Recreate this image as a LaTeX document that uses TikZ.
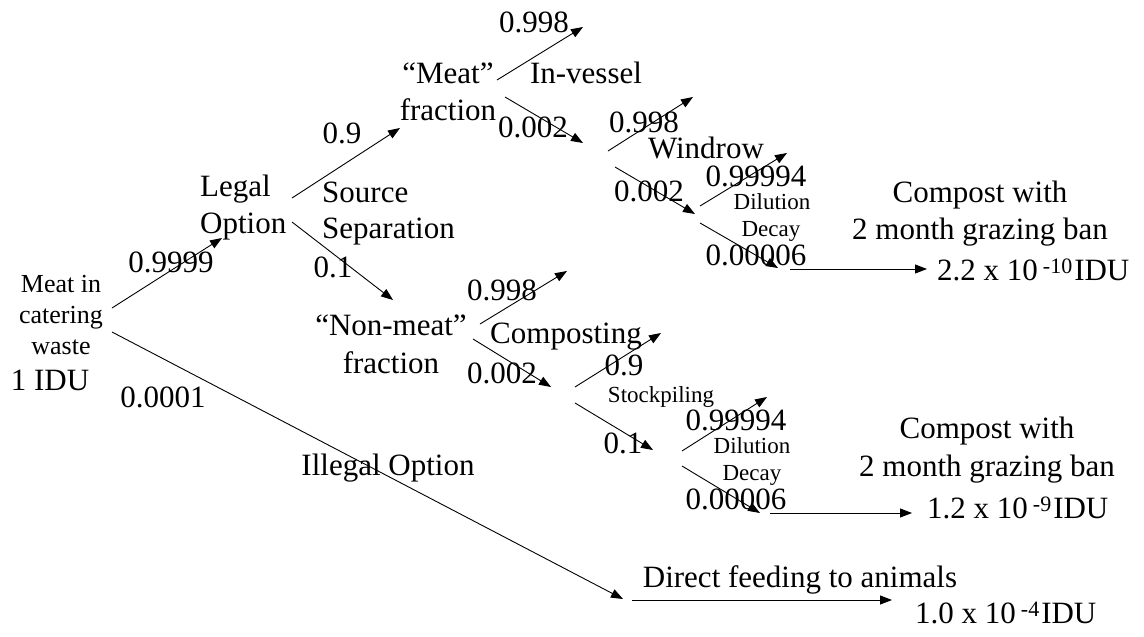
\documentclass[tikz,border=0pt]{standalone}
\usepackage{fontspec}
\setmainfont{Liberation Serif}
\usetikzlibrary{arrows.meta}
\tikzset{
  lbl/.style={anchor=base, inner sep=0pt, font=\fontsize{31}{37}\selectfont},
  sml/.style={anchor=base, inner sep=0pt, font=\fontsize{23}{27}\selectfont},
  mid/.style={anchor=base, inner sep=0pt, font=\fontsize{26}{30}\selectfont},
  res/.style={anchor=base west, inner sep=0pt, font=\fontsize{31}{37}\selectfont},
  arr/.style={draw, line width=0.9pt, -{Triangle[length=12pt,width=9pt]}},
}
\newcommand{\supx}[1]{\hspace{5pt}\raisebox{7pt}{\fontsize{22}{22}\selectfont #1}\hspace{2pt}}
\begin{document}
\begin{tikzpicture}[x=1pt,y=-1pt]
\useasboundingbox (0,0) rectangle (1144,637);
% ---- labels
\node[mid] (src1) at (61,292) {Meat in};
\node[mid] (src2) at (61,323) {catering};
\node[mid] (src3) at (61,354) {waste};
\node[lbl] (src4) at (50,390) {1 IDU};
\node[lbl,anchor=base west] (legal1) at (200,196) {Legal};
\node[lbl,anchor=base west] (legal2) at (200,233) {Option};
\node[lbl] (p1) at (171,272) {0.9999};
\node[lbl] (p2) at (163,407) {0.0001};
\node[lbl] (illegal) at (388,475) {Illegal Option};
\node[lbl,anchor=base west] (ss1) at (322,202) {Source};
\node[lbl,anchor=base west] (ss2) at (322,238) {Separation};
\node[lbl] (p3) at (342,143) {0.9};
\node[lbl] (p4) at (333,277) {0.1};
\node[lbl] (mf1) at (448,83) {“Meat”};
\node[lbl] (mf2) at (448,120) {fraction};
\node[lbl] (p5) at (534,32) {0.998};
\node[lbl] (iv) at (586,83) {In-vessel};
\node[lbl] (p6) at (533,137) {0.002};
\node[lbl] (p7) at (644,132) {0.998};
\node[lbl] (wr) at (706,158) {Windrow};
\node[lbl] (p8) at (649,201) {0.002};
\node[lbl] (p9) at (756,186) {0.99994};
\node[sml] (dil1) at (772,209) {Dilution};
\node[sml] (dec1) at (771,236) {Decay};
\node[lbl] (p10) at (756,265) {0.00006};
\node[lbl] (cw1) at (980,202) {Compost with};
\node[lbl] (cw2) at (980,239) {2 month grazing ban};
\node[res] (r1) at (937,280) {2.2 x 10\supx{-10}IDU};
\node[lbl] (nm1) at (391,335) {“Non-meat”};
\node[lbl] (nm2) at (391,373) {fraction};
\node[lbl] (p11) at (502,300) {0.998};
\node[lbl] (comp) at (566,343) {Composting};
\node[lbl] (p12) at (502,383) {0.002};
\node[lbl] (p13) at (624,375) {0.9};
\node[sml] (stock) at (661,402) {Stockpiling};
\node[lbl] (p14) at (623,453) {0.1};
\node[lbl] (p15) at (736,430) {0.99994};
\node[sml] (dil2) at (752,453) {Dilution};
\node[sml] (dec2) at (752,480) {Decay};
\node[lbl] (p16) at (736,509) {0.00006};
\node[lbl] (cw3) at (987,438) {Compost with};
\node[lbl] (cw4) at (987,476) {2 month grazing ban};
\node[res] (r2) at (927,518) {1.2 x 10\supx{-9}IDU};
\node[lbl] (df) at (800,587) {Direct feeding to animals};
\node[res] (r3) at (915,623) {1.0 x 10\supx{-4}IDU};
% ---- branch points
\coordinate (m-up) at (112,308);
\coordinate (m-dn) at (112,332);
\coordinate (legal-in) at (222,238);
\coordinate (legal-up) at (292,198);
\coordinate (legal-dn) at (292,222);
\coordinate (illegal-end) at (623,599);
\coordinate (mf-in) at (400,128);
\coordinate (mf-up) at (497,80);
\coordinate (mf-dn) at (505,97);
\coordinate (nm-in) at (393,300);
\coordinate (nm-up) at (480,324);
\coordinate (nm-dn) at (473,339);
\coordinate (iv-end) at (583,27);
\coordinate (iv-in) at (583,143);
\coordinate (iv-up) at (608,151);
\coordinate (iv-dn) at (615,167);
\coordinate (wr-end) at (693,97);
\coordinate (wr-in) at (695,214);
\coordinate (wr-up) at (700,206);
\coordinate (wr-dn) at (700,223);
\coordinate (dd-end) at (787,153);
\coordinate (dd-in) at (778,268);
\coordinate (r1-start) at (790,269);
\coordinate (r1-end) at (927,269);
\coordinate (co-end) at (567,271);
\coordinate (co-in) at (551,387);
\coordinate (co-up) at (575,387);
\coordinate (co-dn) at (575,403);
\coordinate (sp-end) at (661,333);
\coordinate (sp-in) at (653,450);
\coordinate (sp-up) at (682,451);
\coordinate (sp-dn) at (682,466);
\coordinate (dd2-end) at (767,397);
\coordinate (dd2-in) at (760,513);
\coordinate (r2-start) at (770,513);
\coordinate (r2-end) at (912,513);
\coordinate (df-start) at (632,600);
\coordinate (df-end) at (892,600);
% ---- connectors
\draw[arr] (m-up) -- (legal-in);
\draw[arr] (m-dn) -- (illegal-end);
\draw[arr] (legal-up) -- (mf-in);
\draw[arr] (legal-dn) -- (nm-in);
\draw[arr] (mf-up) -- (iv-end);
\draw[arr] (mf-dn) -- (iv-in);
\draw[arr] (iv-up) -- (wr-end);
\draw[arr] (iv-dn) -- (wr-in);
\draw[arr] (wr-up) -- (dd-end);
\draw[arr] (wr-dn) -- (dd-in);
\draw[arr] (r1-start) -- (r1-end);
\draw[arr] (nm-up) -- (co-end);
\draw[arr] (nm-dn) -- (co-in);
\draw[arr] (co-up) -- (sp-end);
\draw[arr] (co-dn) -- (sp-in);
\draw[arr] (sp-up) -- (dd2-end);
\draw[arr] (sp-dn) -- (dd2-in);
\draw[arr] (r2-start) -- (r2-end);
\draw[arr] (df-start) -- (df-end);
\end{tikzpicture}
\end{document}
